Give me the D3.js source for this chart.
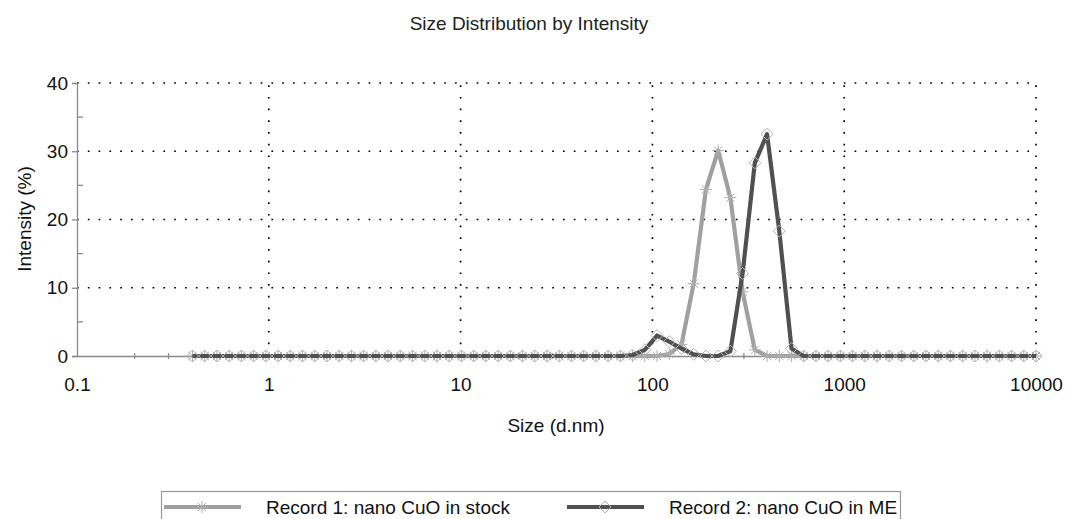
<!DOCTYPE html>
<html>
<head>
<meta charset="utf-8">
<script src="https://cdn.jsdelivr.net/npm/d3@7"></script>
<style>
  body { margin: 0; background: #fff; }
  svg { display: block; font-family: "Liberation Sans", Arial, sans-serif; }
</style>
</head>
<body>
<div id="chart"></div>
<script>
// size bins (d.nm)
const sizes = [0.4, 0.4632, 0.5365, 0.6213, 0.7195, 0.8332, 0.9649, 1.117, 1.294, 1.499,
  1.736, 2.01, 2.328, 2.696, 3.122, 3.615, 4.187, 4.849, 5.615, 6.503,
  7.531, 8.721, 10.1, 11.7, 13.54, 15.69, 18.17, 21.04, 24.36, 28.21,
  32.67, 37.84, 43.82, 50.75, 58.77, 68.06, 78.82, 91.28, 105.7, 122.4,
  141.8, 164.2, 190.1, 220.2, 255, 295.3, 342, 396.1, 458.7, 531.2,
  615.1, 712.4, 825, 955.4, 1106, 1281, 1484, 1718, 1990, 2305,
  2669, 3091, 3580, 4145, 4801, 5560, 6439, 7456, 8635, 10000];

// intensity (%)
const record1 = [0, 0, 0, 0, 0, 0, 0, 0, 0, 0,
  0, 0, 0, 0, 0, 0, 0, 0, 0, 0,
  0, 0, 0, 0, 0, 0, 0, 0, 0, 0,
  0, 0, 0, 0, 0, 0, 0, 0, 0, 0.3,
  1.7, 10.6, 24.4, 30.1, 23.2, 9.4, 0.9, 0, 0, 0,
  0, 0, 0, 0, 0, 0, 0, 0, 0, 0,
  0, 0, 0, 0, 0, 0, 0, 0, 0, 0];
const record2 = [0, 0, 0, 0, 0, 0, 0, 0, 0, 0,
  0, 0, 0, 0, 0, 0, 0, 0, 0, 0,
  0, 0, 0, 0, 0, 0, 0, 0, 0, 0,
  0, 0, 0, 0, 0, 0, 0.15, 0.9, 3.0, 2.1,
  1.1, 0.25, 0, 0, 0.7, 12.1, 28.3, 32.5, 18.3, 1.1,
  0, 0, 0, 0, 0, 0, 0, 0, 0, 0,
  0, 0, 0, 0, 0, 0, 0, 0, 0, 0];

const seriesNames = ["Record 1: nano CuO in stock", "Record 2: nano CuO in ME"];
const xTicks = [0.1, 1, 10, 100, 1000, 10000];
const yTicks = [0, 10, 20, 30, 40];
const yMinorTicks = [5, 15, 25, 35];

const width = 1065;
const height = 519;
const margin = { top: 83, right: 29, bottom: 163, left: 77 };

const svg = d3.select("#chart")
  .append("svg")
  .attr("width", width)
  .attr("height", height);

const x = d3.scaleLog()
  .domain([0.1, 10000])
  .range([margin.left, width - margin.right]);

const y = d3.scaleLinear()
  .domain([0, 40])
  .range([height - margin.bottom, margin.top]);

const axisColor = "#8a8a8a";

//title
svg.append("text")
  .attr("x", 529)
  .attr("y", 30)
  .attr("text-anchor", "middle")
  .style("font-size", "19px")
  .attr("fill", "#222")
  .text("Size Distribution by Intensity");

//dotted grid
svg.append("g")
  .selectAll("line")
  .data(yTicks.slice(1))
  .enter()
  .append("line")
  .attr("x1", x(0.1))
  .attr("x2", x(10000))
  .attr("y1", (d) => y(d))
  .attr("y2", (d) => y(d))
  .attr("stroke", "#000")
  .attr("stroke-width", 1.7)
  .attr("stroke-dasharray", "1.7,9.1");

svg.append("g")
  .selectAll("line")
  .data(xTicks.slice(1))
  .enter()
  .append("line")
  .attr("x1", (d) => x(d))
  .attr("x2", (d) => x(d))
  .attr("y1", y(0))
  .attr("y2", y(40))
  .attr("stroke", "#000")
  .attr("stroke-width", 1.7)
  .attr("stroke-dasharray", "1.7,10");

//axes
const xAxis = svg.append("g")
  .attr("transform", "translate(0," + y(0) + ")")
  .call(d3.axisBottom(x).tickValues(xTicks).tickFormat(d3.format("")).tickSize(0).tickPadding(22));
xAxis.select(".domain").attr("stroke", axisColor).attr("stroke-width", 1.3);
xAxis.selectAll("text").style("font-size", "19px").attr("fill", "#111");

// minor x ticks at 2x and 3x each decade
const xMinor = [];
xTicks.slice(0, -1).forEach((d) => { xMinor.push(d * 2, d * 3); });
svg.append("g")
  .selectAll("line")
  .data(xMinor)
  .enter()
  .append("line")
  .attr("x1", (d) => x(d))
  .attr("x2", (d) => x(d))
  .attr("y1", y(0) - 3)
  .attr("y2", y(0) + 3)
  .attr("stroke", axisColor)
  .attr("stroke-width", 1.2);

const yAxis = svg.append("g")
  .attr("transform", "translate(" + x(0.1) + ",0)")
  .call(d3.axisLeft(y).tickValues(yTicks).tickSize(5).tickPadding(4));
yAxis.select(".domain").attr("stroke", axisColor).attr("stroke-width", 1.3);
yAxis.selectAll("line").attr("stroke", axisColor).attr("stroke-width", 1.3);
yAxis.selectAll("text").style("font-size", "19px").attr("fill", "#111");

svg.append("g")
  .selectAll("line")
  .data(yMinorTicks)
  .enter()
  .append("line")
  .attr("x1", x(0.1))
  .attr("x2", x(0.1) + 6)
  .attr("y1", (d) => y(d))
  .attr("y2", (d) => y(d))
  .attr("stroke", axisColor)
  .attr("stroke-width", 1.3);

//axis titles
svg.append("text")
  .attr("x", 556)
  .attr("y", 432)
  .attr("text-anchor", "middle")
  .style("font-size", "19px")
  .attr("fill", "#111")
  .text("Size (d.nm)");

svg.append("text")
  .attr("transform", "translate(31,219) rotate(-90)")
  .attr("text-anchor", "middle")
  .style("font-size", "19px")
  .attr("fill", "#111")
  .text("Intensity (%)");

//markers
const starPath = (r) => "M0," + -r + "V" + r + "M" + -r + ",0H" + r +
  "M" + -r * 0.7 + "," + -r * 0.7 + "L" + r * 0.7 + "," + r * 0.7 +
  "M" + -r * 0.7 + "," + r * 0.7 + "L" + r * 0.7 + "," + -r * 0.7;
const diamondPath = (r) => "M0," + -r + "L" + r + ",0L0," + r + "L" + -r + ",0Z";

const series = [
  { name: seriesNames[0], values: record1, color: "#a0a0a0", marker: starPath(6), mcolor: "#b0b0b0" },
  { name: seriesNames[1], values: record2, color: "#505050", marker: diamondPath(6), mcolor: "#b4b4b4" }
];

const line = d3.line()
  .x((d) => x(d[0]))
  .y((d) => y(d[1]));

series.forEach((s) => {
  const pts = sizes.map((d, i) => [d, s.values[i]]);
  svg.append("path")
    .datum(pts)
    .attr("d", line)
    .attr("fill", "none")
    .attr("stroke", s.color)
    .attr("stroke-width", 4.2)
    .attr("stroke-linejoin", "round");
  svg.append("g")
    .selectAll("path")
    .data(pts)
    .enter()
    .append("path")
    .attr("transform", (d) => "translate(" + x(d[0]) + "," + y(d[1]) + ")")
    .attr("d", s.marker)
    .attr("fill", "none")
    .attr("stroke", s.mcolor)
    .attr("stroke-width", 1);
});

//legend
const legend = svg.append("g");
legend.append("rect")
  .attr("x", 161.5)
  .attr("y", 491.5)
  .attr("width", 739)
  .attr("height", 60)
  .attr("fill", "none")
  .attr("stroke", "#999")
  .attr("stroke-width", 1.2);

const legendX = [164, 567];
series.forEach((s, i) => {
  const lx = legendX[i];
  legend.append("line")
    .attr("x1", lx)
    .attr("x2", lx + 77)
    .attr("y1", 507)
    .attr("y2", 507)
    .attr("stroke", s.color)
    .attr("stroke-width", 4);
  legend.append("path")
    .attr("transform", "translate(" + (lx + 38) + ",507)")
    .attr("d", s.marker)
    .attr("fill", "none")
    .attr("stroke", s.mcolor)
    .attr("stroke-width", 1);
  legend.append("text")
    .attr("x", lx + 102)
    .attr("y", 514)
    .style("font-size", "19px")
    .attr("fill", "#111")
    .text(s.name);
});
</script>
</body>
</html>
